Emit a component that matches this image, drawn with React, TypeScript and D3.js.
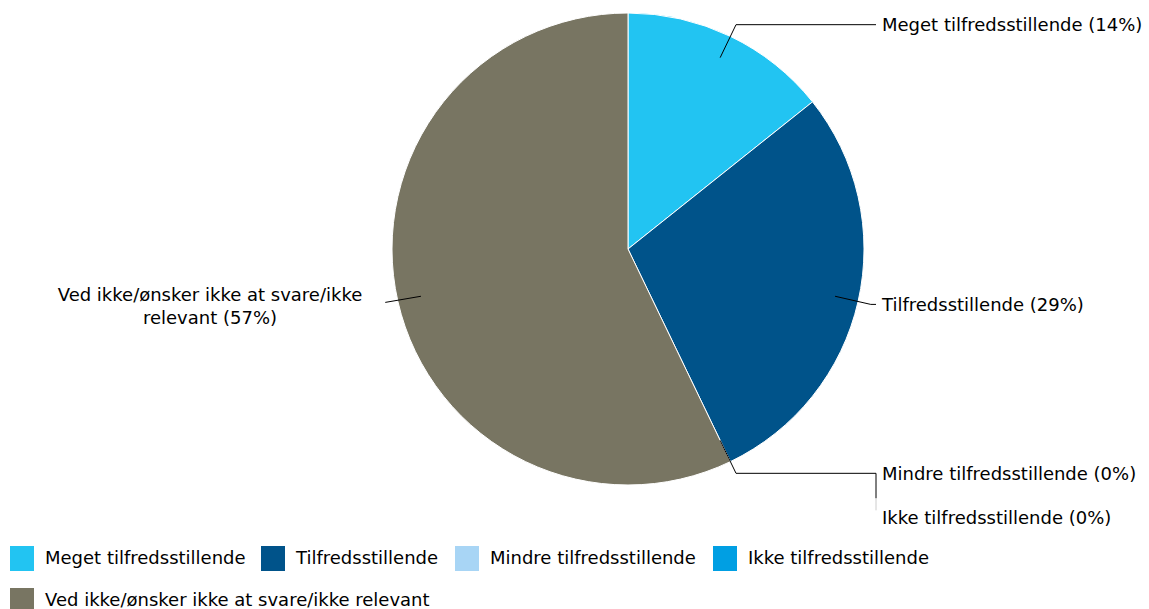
import React from "react";
import * as d3 from "d3";

const categories = [
  "Meget tilfredsstillende",
  "Tilfredsstillende",
  "Mindre tilfredsstillende",
  "Ikke tilfredsstillende",
  "Ved ikke/ønsker ikke at svare/ikke relevant",
];
const values = [1, 2, 0, 0, 4];
const colors = ["#22C4F2", "#00538A", "#A8D5F5", "#009FE3", "#787562"];

const W = 1149;
const H = 609;
const cx = 628;
const cy = 249;
const R = 236;
const FONT = "'DejaVu Sans', Verdana, sans-serif";
const FS = 18;

export default function App() {
  const total = d3.sum(values);
  const pie = d3.pie<number>().sort(null).value((d) => d)(values);
  const arc = d3.arc<d3.PieArcDatum<number>>().innerRadius(0).outerRadius(R);
  const pct = (v: number) => `${Math.round((v / total) * 100)}%`;
  const pt = (a: number, r: number): [number, number] => [
    cx + r * Math.sin(a),
    cy - r * Math.cos(a),
  ];

  const labelX = 882;
  const labels: React.ReactNode[] = [];
  pie.forEach((p, i) => {
    const mid = (p.startAngle + p.endAngle) / 2;
    const [x0, y0] = pt(mid, R * 0.9);
    const [x1, y1] = pt(mid, R * 1.055);
    const text = `${categories[i]} (${pct(values[i])})`;
    if (i === 0 || i === 1 || i === 2) {
      const ly = y1;
      labels.push(
        <g key={i}>
          <polyline
            points={`${x0},${y0} ${x1},${y1} ${labelX - 6},${ly}`}
            fill="none"
            stroke="#000"
            strokeWidth={1}
          />
          <text x={labelX} y={ly} dy="0.35em" fontSize={FS} fontFamily={FONT} fill="#000">
            {text}
          </text>
        </g>
      );
    } else if (i === 3) {
      const ly = y1 + 44;
      labels.push(
        <g key={i}>
          <line x1={labelX - 6} y1={y1} x2={labelX - 6} y2={y1 + 25} stroke="#000" strokeWidth={1} />
          <line x1={labelX - 6} y1={y1 + 25} x2={labelX - 6} y2={y1 + 37} stroke="#ccc" strokeWidth={1} />
          <text x={labelX} y={ly} dy="0.35em" fontSize={FS} fontFamily={FONT} fill="#000">
            {text}
          </text>
        </g>
      );
    } else {
      const tx = 210;
      labels.push(
        <g key={i}>
          <line x1={x0} y1={y0} x2={x1} y2={y1 - 2} stroke="#000" strokeWidth={1} />
          <text textAnchor="middle" fontSize={FS} fontFamily={FONT} fill="#000">
            <tspan x={tx} y={295} dy="0.35em">Ved ikke/ønsker ikke at svare/ikke</tspan>
            <tspan x={tx} y={318} dy="0.35em">{`relevant (${pct(values[i])})`}</tspan>
          </text>
        </g>
      );
    }
  });

  const legendPos = [
    [10, 546],
    [261, 546],
    [455, 546],
    [713, 546],
    [10, 588],
  ];

  return (
    <svg
      width={W}
      height={H}
      style={{ position: "absolute", left: 0, top: 0, background: "#fff" }}
    >
      <g>
        {pie.map((p, i) =>
          values[i] > 0 ? (
            <path
              key={i}
              d={arc(p) || ""}
              transform={`translate(${cx},${cy})`}
              fill={colors[i]}
              stroke="#fff"
              strokeWidth={1}
            />
          ) : null
        )}
      </g>
      {labels}
      <g>
        {categories.map((c, i) => (
          <g key={c}>
            <rect x={legendPos[i][0]} y={legendPos[i][1]} width={24} height={25} fill={colors[i]} />
            <text
              x={legendPos[i][0] + 35}
              y={legendPos[i][1] + 12}
              dy="0.35em"
              fontSize={FS}
              fontFamily={FONT}
              fill="#000"
            >
              {c}
            </text>
          </g>
        ))}
      </g>
    </svg>
  );
}
